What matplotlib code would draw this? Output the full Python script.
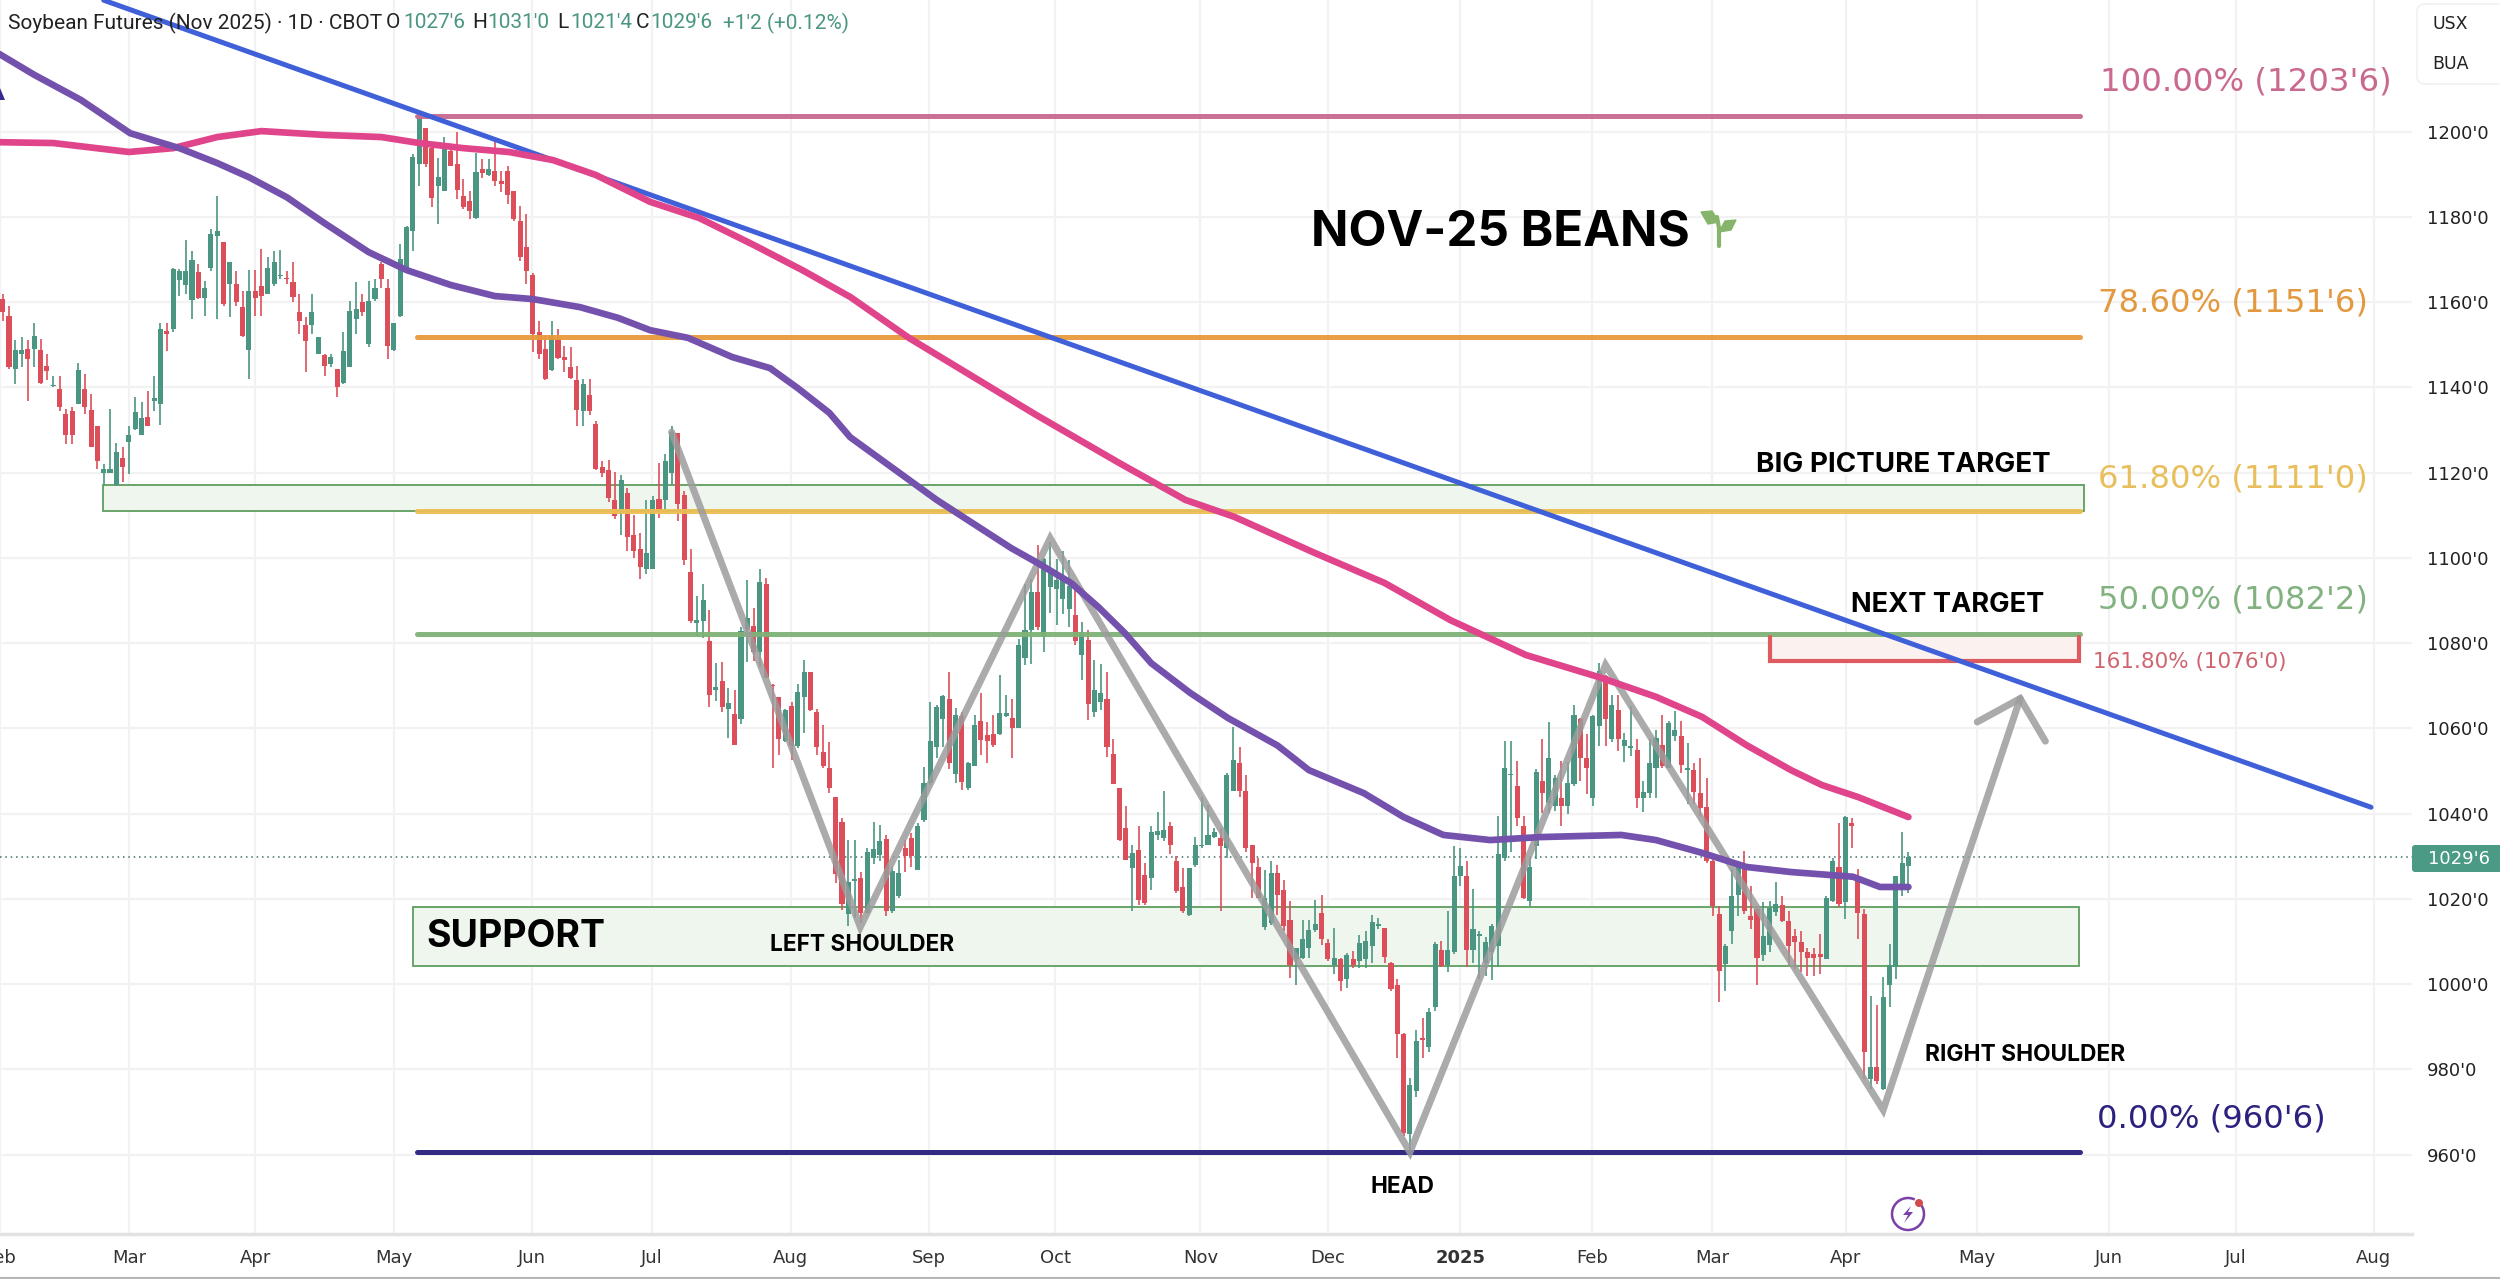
import matplotlib
matplotlib.use("Agg")
import matplotlib.pyplot as plt
from matplotlib.patches import Rectangle, FancyBboxPatch, Polygon, Circle, Arc

# daily candles
opens = [
    1160.7,1156.8,1144.3,1147.8,1149,1149,1148.8,1145,1140.2,1139.6,
    1133.8,1134.5,1136.1,1139.6,1134.7,1131,1120,1120,1117,1123.4,
    1127.1,1130.2,1128.7,1133.1,1136.9,1136.1,1153.1,1153.7,1165.2,1164,
    1160.5,1167,1161,1168.1,1175.5,1174,1164.2,1164.2,1158.8,1148.8,
    1162.7,1163.8,1161.9,1164.2,1166,1165.6,1164.6,1157.6,1154.5,1154.7,
    1147.8,1147.6,1145.5,1144.3,1140.9,1144.8,1156,1159.9,1150.2,1160.7,
    1168.9,1163.4,1148.8,1156.8,1168.1,1176.7,1192.3,1200.9,1196.2,1187.3,
    1186,1195.5,1192.3,1184.9,1183.7,1179.8,1191.2,1189.8,1190.8,1188.4,
    1190.8,1186,1179.1,1173,1166.4,1152.9,1149,1144,1151.3,1147.2,
    1144.7,1141.6,1134.5,1138.3,1131.4,1121.3,1120.6,1113.6,1110.5,1115.2,
    1105.4,1102.1,1097.4,1097.4,1113.8,1113.5,1120,1129.2,1114.8,1096.7,
    1084.8,1085.2,1080.5,1068.9,1071,1064.6,1063.4,1062.3,1083.3,1084,
    1077.8,1093.8,1070.2,1067.3,1057,1065.2,1055.8,1067.3,1073.3,1063.8,
    1054.4,1050.7,1043.9,1038.1,1016.5,1024.1,1024.9,1016.7,1029.7,1030.3,
    1034.1,1017.1,1020.6,1031.9,1034.2,1026.8,1038.5,1047.1,1055.7,1062.3,
    1067,1049.2,1062.9,1045.9,1051.2,1061.7,1058.4,1058.6,1058.6,1062.8,
    1062.5,1060.2,1076.5,1083,1092,1081.4,1093.1,1092.7,1090.4,1088.1,
    1086.5,1077.1,1080.7,1063.9,1066.1,1067,1054.1,1046.1,1036.7,1027.2,
    1031.5,1025.7,1024.9,1035,1034.4,1037,1028.8,1022.9,1016.3,1028,
    1032.3,1032.7,1034.6,1034.2,1031.9,1045.2,1051.8,1045.2,1032.7,1027.6,
    1013.3,1014.4,1026,1022.2,1015.1,1005.8,1006.2,1008.5,1012.8,1016.7,
    1009.7,1004.6,1005.8,1001.3,1005.8,1005.4,1005.8,1008.9,1013.6,1013.2,
    1005,999.7,988.4,964.9,974.9,987.2,985.2,994.6,1007.9,1004.4,
    1007.5,1025.4,1025.4,1007.9,1011.4,1005,1007.5,1009,1029.7,1049,
    1046.5,1037.1,1019.6,1032.4,1047.6,1042.6,1041.8,1043.7,1041.8,1046.9,
    1062.1,1053.1,1043.7,1060.5,1072.2,1057.4,1064.4,1055.8,1055.4,1054.9,
    1043.7,1044.9,1050.8,1056.1,1050.8,1058.3,1058.3,1050.2,1050.2,1044.9,
    1041.6,1028.9,1016.4,1004.7,1012.5,1020.9,1027.4,1016.1,1017.6,1006.9,
    1009.2,1017,1018.5,1014.9,1011.4,1010,1007.5,1007,1007,1005.9,
    1019.6,1027.6,1019.2,1037.7,1025.4,1016.4,977.8,980.6,975.3,999.7,
    1004,1022.7,1027.75,
]
highs = [
    1161.9,1159,1151,1151.7,1151,1155,1151.3,1147.8,1142.7,1142.7,
    1134.9,1135.3,1145.6,1143.1,1138.4,1131,1122,1134.9,1127,1125.9,
    1131,1137.7,1136.5,1139.2,1142.7,1155.2,1155.2,1168.1,1167.7,1174.5,
    1172,1168.9,1165,1177.1,1184.8,1174,1169.3,1167.3,1162.7,1167.5,
    1167.5,1172.4,1170.6,1172,1172.2,1167.3,1169.3,1161.9,1156.4,1161.9,
    1151.7,1147.8,1147.8,1144.3,1152.9,1160.3,1164.6,1162,1165,1165.4,
    1169.3,1165.4,1155.2,1173.6,1177.9,1194.7,1203.7,1200.9,1197,1193.9,
    1198.6,1197,1199.8,1188.8,1186.1,1195,1193.5,1193.5,1197.8,1190.8,
    1192,1186.1,1182.6,1180.6,1166.7,1155.6,1152.1,1155.5,1153.7,1149.8,
    1149.4,1145.1,1141.9,1142,1132.2,1122.8,1123,1120.2,1119.5,1116.3,
    1110.1,1105.8,1113.6,1114.4,1122.2,1124.4,1131,1129.2,1115.6,1102,
    1091,1093.8,1087.8,1075.3,1075.6,1069.4,1068.9,1083.7,1094.9,1088.3,
    1097.4,1095.3,1070.4,1067.3,1064.6,1066.1,1070.4,1076.1,1073.3,1064.6,
    1060.7,1056.8,1044,1038.9,1033.9,1033.9,1026.4,1031.9,1038.1,1037.4,
    1035,1027.6,1029.2,1033.9,1035.4,1037.8,1051,1066.2,1065.4,1067.8,
    1073.2,1064.7,1063.9,1052,1063.1,1068.2,1061.5,1063.1,1072.5,1067.8,
    1067,1081,1093.9,1095,1102.9,1100,1103.7,1099.8,1101.7,1099.4,
    1094.3,1084.9,1083,1076,1075.2,1073.2,1057.6,1046.1,1041.7,1032.7,
    1037,1028.4,1037,1040.5,1045.2,1038.1,1030,1027.2,1027.2,1034.6,
    1044,1042,1036.6,1036.6,1049.6,1060.4,1055.7,1049,1032.7,1029.6,
    1026.8,1028.8,1028,1024.5,1019.4,1008.5,1015.1,1015.1,1019.8,1021,
    1010.5,1013.2,1006.2,1007.3,1007.8,1011.6,1012.4,1016.3,1015.5,1013.2,
    1005.3,1001.2,988.6,978,989.3,992,994.5,1010,1010.2,1017.2,
    1032.4,1032,1028.9,1022.4,1012.5,1011,1014,1039.5,1057,1057,
    1052.3,1039.5,1029.7,1050.4,1057.4,1061.4,1049,1052.3,1052,1065.6,
    1062.5,1058.6,1063.2,1075.3,1072.6,1067.9,1067.9,1059,1065.2,1057.4,
    1047.6,1057.4,1059.7,1063.2,1061.7,1064,1061.7,1056.6,1051.9,1053.1,
    1048.4,1029.3,1018.4,1009.4,1027,1027.4,1031.3,1023.1,1018,1019.2,
    1019.6,1023.9,1020.7,1017.2,1012.9,1012.5,1008.6,1008.6,1011.8,1020.7,
    1029.7,1037.7,1039.5,1039,1027,1017.6,997.3,995,1001.6,1009.4,
    1025.4,1035.7,1031,
]
lows = [
    1155.6,1144.3,1140.8,1144.7,1136.9,1144.7,1140.8,1141.6,1140,1134.5,
    1126.7,1126.7,1136,1133.8,1125.9,1120.9,1117,1120,1116.9,1117.7,
    1119.7,1130,1128.7,1131,1134.5,1131.2,1148.6,1153,1161.5,1161.9,
    1156,1160.7,1156.8,1167.3,1156,1159.1,1156.4,1159.1,1151.7,1142,
    1156.8,1156.8,1161.9,1163.8,1165.4,1164.2,1159.9,1152.5,1143.5,1152.5,
    1147.8,1142.7,1144.7,1137.7,1140.8,1144.7,1152.5,1156.8,1149.4,1160.3,
    1163.4,1146.6,1148.6,1156.4,1168,1172,1187.3,1191.6,1182.2,1178.3,
    1186,1192,1184.1,1181.8,1179.5,1179.5,1189.2,1189.6,1187.3,1185.7,
    1183,1179.1,1169.7,1164.2,1148.2,1146.6,1141.7,1143.9,1146.6,1143.5,
    1141.9,1131,1131,1133.4,1120.6,1118.9,1113.2,1109,1105.4,1101.6,
    1100,1095.1,1096.1,1097.3,1109.3,1110.9,1117,1108.6,1098.4,1084.8,
    1081.6,1081.3,1065,1066.5,1063.8,1057.7,1056,1061.1,1075.5,1075.9,
    1074.3,1071.7,1050.6,1053.7,1056.8,1052.5,1055.5,1058.8,1064,1053.7,
    1050.6,1044.8,1023.7,1017.5,1013.6,1015.5,1014.4,1016.5,1028.1,1028.8,
    1015.9,1016.7,1020.2,1026.4,1027.6,1026.8,1038.1,1046.7,1053,1055.7,
    1050.5,1047.1,1045.6,1045.6,1051.1,1053.7,1051.8,1055.7,1058.4,1062.7,
    1053,1060,1074.9,1075,1083,1077.9,1087,1084.2,1086.9,1083.8,
    1079.5,1071.3,1061.9,1062.7,1064.3,1053.4,1046.9,1033.5,1029.2,1017.1,
    1018.6,1018.6,1022.2,1033.9,1033.5,1030.5,1021.4,1016.7,1015.9,1027.6,
    1032,1032.7,1034.2,1017.1,1029.6,1045.2,1044,1031.1,1020.2,1020.2,
    1012.8,1013.9,1016.3,1012.4,1001.5,999.9,1005.8,1006.2,1012.2,1009.3,
    1005.4,1002.3,998.4,999.1,1003.8,1003.8,1003.8,1005,1013,1005,
    998.5,982.7,964.4,960.75,973.5,982.7,984,993.8,1004,1002.8,
    1007,1023,1004,1005,1001.2,1002,1000.9,1004,1029,1031,
    1037,1020,1018.4,1029.3,1040.2,1040.2,1040.6,1037,1039.8,1046.5,
    1047.6,1044.5,1041.8,1055.8,1055.8,1056.9,1054.7,1052,1053.5,1041.4,
    1040.4,1043.7,1043.7,1050.8,1050.8,1057,1049.6,1042.3,1042.3,1039.5,
    1028.5,1016,995.9,998.3,1009.4,1016,1016.4,1012.9,999.8,1005.5,
    1007.5,1016,1014.5,1004.4,1003.6,1002.8,1002,1002,1002.4,1005.9,
    1019.2,1018,1015.3,1032,1010.7,977.8,975.5,976.7,975.1,994.6,
    1001.2,1020.7,1021.5,
]
closes = [
    1157.6,1144.7,1148.8,1148.8,1146.6,1152.1,1141,1143.9,1140.5,1135.3,
    1128.7,1128.7,1144.1,1135.3,1125.9,1122.8,1120.9,1120.9,1124.8,1121.2,
    1128.7,1134.1,1132.8,1131,1137.5,1153.7,1152.6,1167.7,1167.3,1167.2,
    1169.9,1161,1163.4,1175.9,1176.7,1159.5,1169.3,1159.9,1152.1,1162.7,
    1161,1161.5,1168.1,1169.3,1166.4,1165.4,1161.3,1155.5,1150.8,1157.7,
    1151.7,1145,1147,1140,1148.6,1158,1158.4,1157.6,1160.3,1163.4,
    1165.4,1149.8,1155.2,1170,1177.5,1194,1203.7,1192.3,1184.5,1189.4,
    1196.6,1192,1186.3,1182.3,1181.4,1190.4,1190.2,1191.2,1188.4,1187.8,
    1185.2,1179.5,1170.5,1167.2,1152.5,1147.8,1142,1152.1,1146.9,1146.3,
    1142.3,1134.7,1140.8,1134.5,1120.9,1119.8,1114,1109.7,1118.3,1105,
    1101.6,1097.9,1101.2,1113.6,1111.1,1122.6,1129.5,1112.7,1099.6,1085.2,
    1085.4,1090.1,1067.9,1069.6,1065,1066,1056.2,1082.9,1086,1077.8,
    1094.3,1071.8,1069.9,1057.6,1064.4,1055.8,1068.5,1073.2,1064.4,1055.6,
    1051.2,1046,1025.8,1018.7,1024,1024.6,1016.7,1030.9,1031.7,1033.5,
    1017.1,1026.6,1026,1030,1030,1037,1047.1,1057.1,1065,1067.6,
    1051.8,1063.1,1047.5,1051.8,1060.8,1057.3,1057,1056.1,1063.5,1063.7,
    1060.2,1079.5,1083,1092,1083.8,1099.8,1097.4,1094.7,1095.1,1093.5,
    1080.4,1082.6,1065.8,1069,1068.2,1055.7,1046.9,1033.9,1029.2,1030.7,
    1019.8,1019,1035.8,1036,1036.2,1032.7,1021.8,1017.1,1027.2,1032.7,
    1032.7,1035,1035.8,1032.3,1049,1052.6,1045.2,1031.9,1028.4,1020.2,
    1020.2,1026,1021,1013.6,1004.6,1008.5,1010.5,1012.8,1014,1010.5,
    1005.8,1006.2,1000.7,1006.9,1004.6,1009.7,1010.1,1014.7,1014,1006.3,
    998.8,988.3,965.1,976.3,986.6,987,993.5,1009.4,1004.2,1007.9,
    1025.4,1027.8,1007.9,1012.9,1011.6,1010,1013.7,1030.5,1050.8,1049.2,
    1039,1020.3,1027.4,1049.8,1044.9,1053.1,1048.4,1041.8,1047.3,1063.2,
    1053.1,1050.8,1062.9,1073.4,1062.1,1065.6,1057.4,1057.2,1055.8,1043.7,
    1045.1,1051.8,1057.8,1051.2,1061.3,1059.7,1051.5,1050.8,1045.1,1041.4,
    1028.9,1018.4,1003.2,1009,1020.6,1027.4,1017.2,1015,1006.1,1011.4,
    1017.8,1018.8,1014.9,1009,1009.8,1007.5,1006.1,1006.1,1006.3,1020.1,
    1028.9,1018.8,1039.3,1037,1016.8,984,980.6,977.4,996.9,1004.4,
    1025.4,1028.4,1029.75,
]

# moving averages, bar number and price
purple_bars = [-1,5,12.4,20.2,28,34,39,45,51,58,64,71,78,84,91.5,97.5,102.6,108.6,115.6,121.6,126,131,134.3,
               148,159.8,164,169.3,173.6,177.8,182,188.2,194.2,202,207,215.7,222,228.3,235.7,243.6,256.5,262,
               269.3,276.3,283.4,293.2,297.5,302]
purple_vals = [1218.6,1213.3,1207.4,1199.6,1196.1,1192.6,1189.3,1184.6,1178.5,1171.7,1167.5,1164,1161.4,1160.7,
               1158.8,1156.3,1153.4,1151.6,1147.1,1144.5,1139.8,1134,1128.3,1113.6,1102.3,1098.8,1094.1,1088.5,
               1082.4,1075.3,1068.3,1062.4,1056,1050.2,1044.8,1039.2,1035,1033.8,1034.5,1035,1033.8,1030.8,
               1027.5,1026.3,1025.2,1022.8,1022.8]
pink_bars = [-1,8,20,27,34,41,51,60,66,73,80.2,87.2,94,102.6,110.4,119,126.7,134.3,143.6,163.8,177,187.4,195.2,
             208,219,229.4,236.3,241.4,253,262,269.3,276.3,283.4,288.3,294,302]
pink_vals = [1197.5,1197.3,1195.2,1196.1,1198.7,1200.1,1199.2,1198.7,1197.3,1196.1,1195.2,1193.3,1189.8,1183.5,
             1179.7,1173.4,1167.5,1161.2,1151.6,1133.5,1122.2,1113.6,1109.6,1101.1,1094.1,1085.4,1080.7,1077.2,
             1072,1067.4,1062.7,1056.1,1050.2,1046.7,1043.9,1039.2]

trend_bars = [16, 375.3]
trend_vals = [1230.8, 1041.5]

fib_levels = [1203.75, 1151.75, 1111, 1082.25, 960.75]
fib_colors = ["#c9698f", "#e79a3c", "#ecbf55", "#7fb277", "#281f7c"]
fib_start, fib_end = 65.7, 329.2

# head and shoulders sketch
path_bars = [106, 135.9, 166, 223, 254, 298, 319.7]
path_vals = [1129.5, 1013.4, 1104.6, 960.6, 1074.9, 970.5, 1067]
head_bars = [312.9, 319.7, 323.7]
head_vals = [1061.5, 1067, 1057]

price_ticks = [960, 980, 1000, 1020, 1040, 1060, 1080, 1100, 1120, 1140, 1160, 1180, 1200]
month_pos = [-0.4, 20, 40, 62, 83.9, 102.9, 124.9, 146.8, 166.8, 189.8, 210, 231, 251.9, 270.9, 292.1, 312.9,
             333.8, 353.9, 375.7]
month_names = ["Feb", "Mar", "Apr", "May", "Jun", "Jul", "Aug", "Sep", "Oct", "Nov", "Dec", "2025", "Feb", "Mar",
               "Apr", "May", "Jun", "Jul", "Aug"]

GREEN = "#4a9682"
RED = "#dc4f5a"

fig = plt.figure(figsize=(25, 12.79), dpi=100, facecolor="white")
ax = fig.add_axes([0, 1 - 1234 / 1279, 2412 / 2500, 1234 / 1279])
ax.set_xlim(-0.43, 381.8)
ax.set_ylim(941.4, 1230.85)

ax.grid(True, color="#f2f2f3", lw=1.6)
ax.set_axisbelow(True)
ax.yaxis.tick_right()
ax.set_yticks(price_ticks)
ax.set_yticklabels(["{}'0".format(p) for p in price_ticks], fontsize=13, color="#222222", family="DejaVu Sans")
ax.set_xticks(month_pos)
ax.set_xticklabels(month_names, fontsize=13, color="#333333", family="DejaVu Sans")
for label in ax.get_xticklabels():
    if label.get_text() == "2025":
        label.set_fontweight("bold")
ax.tick_params(axis="y", length=0, pad=11)
ax.tick_params(axis="x", length=0, pad=11)
for side in ["top", "left", "right"]:
    ax.spines[side].set_visible(False)
ax.spines["bottom"].set_color("#e2e2e2")
ax.spines["bottom"].set_linewidth(2.5)

# zones behind the candles
ax.add_patch(Rectangle((15.9, 1111), 314, 6.1, fc="#eef6ee", ec="#5f9e5f", lw=1.3, zorder=1))
ax.add_patch(Rectangle((65, 1004.3), 264, 13.8, fc="#eef6ee", ec="#5f9e5f", lw=1.3, zorder=1))
ax.add_patch(Rectangle((280, 1075.9), 49, 6.3, fc="#fbf1ef", ec="none", zorder=1))

ax.axhline(1029.75, color="#3f6f66", lw=1.1, ls=(0, (1, 2.5)), zorder=1.5)

# candles
bars = list(range(len(opens)))
colors = [GREEN if c >= o else RED for o, c in zip(opens, closes)]
ax.vlines(bars, lows, highs, colors=colors, lw=1.2, zorder=3)
ax.bar(bars, [max(abs(c - o), 0.35) for o, c in zip(opens, closes)], bottom=[min(o, c) for o, c in zip(opens, closes)],
       width=0.8, color=colors, lw=0, zorder=3)

# fib levels
for level, color in zip(fib_levels, fib_colors):
    ax.plot([fib_start, fib_end], [level, level], color=color, lw=3.6, solid_capstyle="round", alpha=0.95, zorder=4)

# red target box
ax.plot([280, 280, 329, 329], [1081.5, 1075.9, 1075.9, 1081.5], color="#dd5a5f", lw=3, zorder=4,
        solid_capstyle="round", solid_joinstyle="miter")

ax.plot(path_bars, path_vals, color="#9c9c9c", lw=5, alpha=0.85, solid_joinstyle="miter", solid_capstyle="round", zorder=5)
ax.plot(head_bars, head_vals, color="#9c9c9c", lw=5, alpha=0.85, solid_joinstyle="miter", solid_capstyle="round", zorder=5)

ax.plot(trend_bars, trend_vals, color="#3f60d8", lw=3.6, zorder=6, solid_capstyle="round")
ax.plot(pink_bars, pink_vals, color="#e0458c", lw=4.8, zorder=6, solid_capstyle="round", solid_joinstyle="round")
ax.plot(purple_bars, purple_vals, color="#7451ad", lw=4.8, zorder=6, solid_capstyle="round", solid_joinstyle="round")

# overlay in image pixels for the notes and the small furniture
top = fig.add_axes([0, 0, 1, 1], facecolor="none")
top.set_xlim(0, 2500)
top.set_ylim(1279, 0)
top.axis("off")

bold = dict(family="Inter", fontweight="bold", color="black", va="center")
top.text(1311, 232, "NOV-25 BEANS", fontsize=35.5, **bold)
top.text(1756, 465, "BIG PICTURE TARGET", fontsize=20, **bold)
top.text(1851, 605, "NEXT TARGET", fontsize=19.6, **bold)
top.text(426, 937, "SUPPORT", fontsize=27, **bold)
top.text(770, 945, "LEFT SHOULDER", fontsize=16.3, **bold)
top.text(1370, 1187, "HEAD", fontsize=16.3, **bold)
top.text(1925, 1055, "RIGHT SHOULDER", fontsize=16.4, **bold)

fib_font = dict(family="DejaVu Sans", va="center")
top.text(2100, 82, "100.00% (1203'6)", color="#c9698f", fontsize=23.3, **fib_font)
top.text(2098, 303, "78.60% (1151'6)", color="#e2993f", fontsize=23.2, **fib_font)
top.text(2098, 479, "61.80% (1111'0)", color="#e8bf5c", fontsize=23.2, **fib_font)
top.text(2098, 600, "50.00% (1082'2)", color="#82b280", fontsize=23.2, **fib_font)
top.text(2093, 662, "161.80% (1076'0)", color="#cf6470", fontsize=15.5, **fib_font)
top.text(2097, 1119, "0.00% (960'6)", color="#2b2280", fontsize=23.2, **fib_font)

# header
head_font = dict(family="Roboto", fontsize=15, va="center")
head_green = "#4a9682"
top.text(8, 23, "Soybean Futures (Nov 2025) \u00b7 1D \u00b7 CBOT", color="#222222", **head_font)
for x, txt, col in [(386, "O", "#222222"), (403, "1027'6", head_green), (472, "H", "#222222"), (487, "1031'0", head_green),
                    (557, "L", "#222222"), (570, "1021'4", head_green), (636, "C", "#222222"), (650, "1029'6", head_green),
                    (723, "+1'2 (+0.12%)", head_green)]:
    top.text(x, 23, txt, color=col, **head_font)

# currency box and last price tag
top.add_patch(FancyBboxPatch((2421, 8), 90, 72, boxstyle="round,pad=4,rounding_size=8", fc="white", ec="#f1f1f1", lw=1.2))
top.text(2432, 24, "USX", fontsize=12.5, color="#222222", family="DejaVu Sans", va="center")
top.text(2432, 64, "BUA", fontsize=12.5, color="#222222", family="DejaVu Sans", va="center")
top.add_patch(FancyBboxPatch((2415, 848), 90, 21, boxstyle="round,pad=3,rounding_size=3", fc="#4a9a85", ec="none"))
top.text(2459, 859, "1029'6", fontsize=13, color="white", family="DejaVu Sans", ha="center", va="center")

# sprout
sprout = "#86b46c"
top.plot([1719, 1719, 1717], [246, 228, 217], color=sprout, lw=3, solid_capstyle="round")
top.add_patch(Polygon([(1701, 212), (1712, 211), (1719, 222), (1708, 224)], fc=sprout, ec=sprout, lw=1))
top.add_patch(Polygon([(1719, 232), (1725, 221), (1736, 220), (1731, 230)], fc=sprout, ec=sprout, lw=1))

# lightning badge
top.add_patch(Arc((1908, 1214), 32, 32, theta1=-35, theta2=295, ec="#7b3fa8", lw=1.8))
top.add_patch(Polygon([(1911, 1206), (1903, 1215), (1908, 1215), (1904, 1223), (1913, 1212), (1908, 1212)], fc="#7b3fa8", ec="none"))
top.add_patch(Circle((1919, 1203), 4, fc="#d24a4a", ec="none"))

# clipped arrow tip at the left edge, bottom rule
top.add_patch(Polygon([(0, 88), (5, 100), (0, 100)], fc="#3b2a8c", ec="none"))
top.plot([0, 2500], [1278, 1278], color="#b5b5b5", lw=1.5)

fig.savefig("out.png", dpi=100)
